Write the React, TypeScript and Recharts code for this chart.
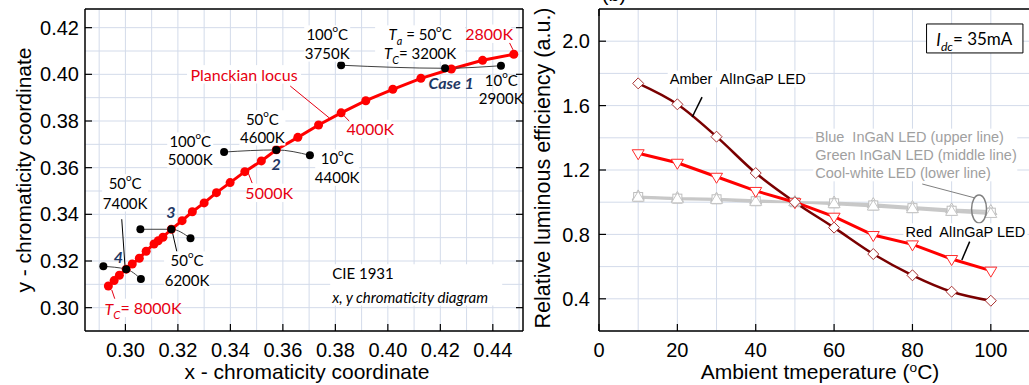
import React from 'react';
import {
  ComposedChart,
  Line,
  XAxis,
  YAxis,
  CartesianGrid,
  ReferenceDot,
  ReferenceLine,
  ReferenceArea,
} from 'recharts';

// ─── Fonts & colours ──────────────────────────────────────────────────────────

const ARIAL = '"Liberation Sans", Arial, sans-serif';
const CALIBRI = 'Lato, "Noto Sans", sans-serif';
const GRID = '#d3dbea';
const RED = '#ff0000';
const LABEL_RED = '#e60012';
const NAVY = '#1f3864';
const GREY_TXT = '#a0a0a0';

// ─── (a) CIE 1931 chromaticity data ───────────────────────────────────────────

const LOCUS_X = [
  0.2935, 0.2957, 0.2977, 0.3003, 0.3026, 0.3053, 0.3079, 0.3109, 0.3125, 0.3143,
  0.3175, 0.3216, 0.3255, 0.33, 0.3347, 0.3399, 0.3455, 0.3518, 0.3575, 0.3657,
  0.3736, 0.3822, 0.3916, 0.4019, 0.4126, 0.4242, 0.4361, 0.448,
];
const LOCUS_Y = [
  0.3093, 0.3116, 0.3139, 0.3165, 0.3187, 0.3212, 0.3242, 0.3273, 0.3287, 0.3302,
  0.3336, 0.3373, 0.3411, 0.3449, 0.3493, 0.3536, 0.3583, 0.3629, 0.3677, 0.373,
  0.3783, 0.3835, 0.3887, 0.3936, 0.3983, 0.4023, 0.406, 0.4086,
];

// each case: 100°C, 50°C, 10°C
const CASE1_X = [0.3822, 0.4218, 0.4431];
const CASE1_Y = [0.4039, 0.4026, 0.4037];
const CASE2_X = [0.3376, 0.3575, 0.3703];
const CASE2_Y = [0.3667, 0.3676, 0.3653];
const CASE3_X = [0.3057, 0.3175, 0.3248];
const CASE3_Y = [0.3336, 0.3336, 0.3297];
const CASE4_X = [0.2916, 0.3003, 0.3059];
const CASE4_Y = [0.3177, 0.3165, 0.3123];

const CIE_X_DOMAIN = [0.2846, 0.4515];
const CIE_Y_DOMAIN = [0.29, 0.428];
const CIE_X_TICKS = [0.3, 0.32, 0.34, 0.36, 0.38, 0.4, 0.42, 0.44];
const CIE_Y_TICKS = [0.3, 0.32, 0.34, 0.36, 0.38, 0.4, 0.42];
const CIE_X_GRID = [
  0.29, 0.3, 0.31, 0.32, 0.33, 0.34, 0.35, 0.36, 0.37, 0.38, 0.39, 0.4, 0.41, 0.42,
  0.43, 0.44, 0.45,
];
const CIE_Y_GRID = [0.3, 0.31, 0.32, 0.33, 0.34, 0.35, 0.36, 0.37, 0.38, 0.39, 0.4, 0.41, 0.42];

// ─── (b) Relative luminous efficiency vs ambient temperature ─────────────────

const TEMPS = [10, 20, 30, 40, 50, 60, 70, 80, 90, 100];
const AMBER = [1.738, 1.608, 1.407, 1.181, 1.0, 0.842, 0.678, 0.546, 0.444, 0.388];
const RED_LED = [1.304, 1.245, 1.158, 1.07, 1.0, 0.91, 0.796, 0.738, 0.647, 0.575];
const BLUE = [1.036, 1.026, 1.022, 1.012, 1.0, 0.998, 0.988, 0.97, 0.955, 0.945];
const GREEN = [1.032, 1.022, 1.018, 1.006, 1.0, 0.993, 0.98, 0.963, 0.947, 0.935];
const COOL_WHITE = [1.028, 1.018, 1.014, 1.002, 1.0, 0.988, 0.973, 0.957, 0.94, 0.927];

const TEMP_TICKS = [0, 20, 40, 60, 80, 100];
const EFF_TICKS = [0.4, 0.8, 1.2, 1.6, 2.0];
const TEMP_GRID = [10, 20, 30, 40, 50, 60, 70, 80, 90, 100];
const EFF_GRID = [0.4, 0.6, 0.8, 1.0, 1.2, 1.4, 1.6, 1.8, 2.0];

// ─── Helpers ──────────────────────────────────────────────────────────────────

const zip = (xs: number[], ys: number[]) => xs.map((x, i) => ({ x, y: ys[i] }));

const locusData = zip(LOCUS_X, LOCUS_Y);
const caseData = [
  zip(CASE1_X, CASE1_Y),
  zip(CASE2_X, CASE2_Y),
  zip(CASE3_X, CASE3_Y),
  zip(CASE4_X, CASE4_Y),
];

const effRows = TEMPS.map((t, i) => ({
  t,
  amber: AMBER[i],
  red: RED_LED[i],
  blue: BLUE[i],
  green: GREEN[i],
  white: COOL_WHITE[i],
}));

const AXIS = { stroke: '#000', strokeWidth: 1.5 };
const TICK_LINE = { stroke: '#000', strokeWidth: 1.2 };
const TICK = { fill: '#000', fontSize: 20, fontFamily: ARIAL };
const blank = () => '';

const Deg = () => (
  <tspan baselineShift="super" fontSize="65%">
    o
  </tspan>
);

const Sub = ({ children }: { children: React.ReactNode }) => (
  <tspan fontStyle="italic" baselineShift="sub" fontSize="72%">
    {children}
  </tspan>
);

interface NoteProps {
  viewBox?: { x: number; y: number };
  lines: React.ReactNode[];
  color?: string;
  size?: number;
  anchor?: 'start' | 'middle' | 'end';
  family?: string;
  weight?: number | string;
  italic?: boolean;
  gap?: number;
  bgWidth?: number;
}

// Multi-line text block anchored at a data point (first line centred on y)
function Note({
  viewBox,
  lines,
  color = '#000',
  size = 15,
  anchor = 'middle',
  family = CALIBRI,
  weight,
  italic,
  gap = 19,
  bgWidth,
}: NoteProps) {
  if (!viewBox) return null;
  const { x, y } = viewBox;
  const h = (lines.length - 1) * gap + size * 1.15;
  let bx = x - 2;
  if (bgWidth && anchor === 'middle') bx = x - bgWidth / 2;
  if (bgWidth && anchor === 'end') bx = x - bgWidth + 2;
  return (
    <g>
      {bgWidth ? <rect x={bx} y={y - size * 0.575} width={bgWidth} height={h} fill="#fff" /> : null}
      {lines.map((l, i) => (
        <text
          key={i}
          x={x}
          y={y + i * gap}
          textAnchor={anchor}
          dominantBaseline="central"
          fill={color}
          fontSize={size}
          fontFamily={family}
          fontWeight={weight}
          fontStyle={italic ? 'italic' : undefined}
          style={{ whiteSpace: 'pre' }}
        >
          {l}
        </text>
      ))}
    </g>
  );
}

// ─── Marker shapes ────────────────────────────────────────────────────────────

const diamond = (stroke: string) => (p: any) => (
  <path
    key={`dm${p.index}`}
    d={`M${p.cx},${p.cy - 5.5}L${p.cx + 5.5},${p.cy}L${p.cx},${p.cy + 5.5}L${p.cx - 5.5},${p.cy}Z`}
    fill="#fff"
    stroke={stroke}
    strokeWidth={1}
  />
);
const triDown = (stroke: string) => (p: any) => (
  <path
    key={`td${p.index}`}
    d={`M${p.cx - 6},${p.cy - 3.5}L${p.cx + 6},${p.cy - 3.5}L${p.cx},${p.cy + 6.5}Z`}
    fill="#fff"
    stroke={stroke}
    strokeWidth={1}
  />
);
const triUp = (stroke: string) => (p: any) => (
  <path
    key={`tu${p.index}`}
    d={`M${p.cx - 6},${p.cy + 3.5}L${p.cx + 6},${p.cy + 3.5}L${p.cx},${p.cy - 6.5}Z`}
    fill="#fff"
    stroke={stroke}
    strokeWidth={1}
  />
);
const square = (stroke: string) => (p: any) => (
  <rect key={`sq${p.index}`} x={p.cx - 4.5} y={p.cy - 4.5} width={9} height={9} fill="#fff" stroke={stroke} strokeWidth={1} />
);

// vertical grid lines, drawn under the data
const vGrid = (values: number[]) =>
  values.map((v) => (
    <ReferenceLine key={`vg${v}`} x={v} stroke={GRID} strokeWidth={1} zIndex={-100} />
  ));

// ─── Panel (a) ────────────────────────────────────────────────────────────────

function ChromaticityPanel() {
  const redLeader = { stroke: LABEL_RED, strokeWidth: 1, ifOverflow: 'visible' as const };
  const blackLeader = { stroke: '#000', strokeWidth: 1, ifOverflow: 'visible' as const };
  return (
    <ComposedChart width={530} height={385} margin={{ top: 4, right: 2, bottom: 0, left: 0 }}>
      <YAxis yAxisId="gy" type="number" domain={CIE_Y_DOMAIN} ticks={CIE_Y_GRID} hide allowDataOverflow />
      <CartesianGrid yAxisId="gy" vertical={false} stroke={GRID} strokeWidth={1} />

      <XAxis
        dataKey="x"
        type="number"
        domain={CIE_X_DOMAIN}
        ticks={CIE_X_TICKS}
        allowDataOverflow
        interval={0}
        height={54}
        tickSize={-7}
        tickMargin={19}
        tick={TICK}
        tickLine={TICK_LINE}
        axisLine={AXIS}
        tickFormatter={(v: number) => v.toFixed(2)}
      />
      <XAxis
        xAxisId="top"
        orientation="top"
        type="number"
        domain={CIE_X_DOMAIN}
        ticks={CIE_X_TICKS}
        allowDataOverflow
        interval={0}
        height={5}
        tickSize={-7}
        tickLine={TICK_LINE}
        axisLine={AXIS}
        tickFormatter={blank}
      />
      <YAxis
        type="number"
        domain={CIE_Y_DOMAIN}
        ticks={CIE_Y_TICKS}
        allowDataOverflow
        interval={0}
        width={85}
        tickSize={-7}
        tickMargin={13}
        tick={TICK}
        tickLine={TICK_LINE}
        axisLine={AXIS}
        tickFormatter={(v: number) => v.toFixed(2)}
      />
      <YAxis
        yAxisId="right"
        orientation="right"
        type="number"
        domain={CIE_Y_DOMAIN}
        ticks={CIE_Y_TICKS}
        allowDataOverflow
        interval={0}
        width={5}
        tickSize={-7}
        tickLine={TICK_LINE}
        axisLine={AXIS}
        tickFormatter={blank}
      />

      {vGrid(CIE_X_GRID)}

      {/* Planckian locus */}
      <Line
        data={locusData}
        dataKey="y"
        type="linear"
        stroke={RED}
        strokeWidth={3}
        dot={{ r: 4.5, fill: RED, stroke: 'none' }}
        isAnimationActive={false}
      />

      {/* temperature sweeps (100 / 50 / 10 °C) */}
      {caseData.map((d, i) => (
        <Line
          key={i}
          data={d}
          dataKey="y"
          type="monotone"
          stroke="#404040"
          strokeWidth={1}
          dot={{ r: 4, fill: '#000', stroke: 'none' }}
          isAnimationActive={false}
        />
      ))}

      {/* leaders */}
      <ReferenceLine segment={[{ x: 0.3628, y: 0.395 }, { x: 0.3777, y: 0.3813 }]} {...redLeader} />
      <ReferenceLine segment={[{ x: 0.383, y: 0.3826 }, { x: 0.3856, y: 0.3796 }]} {...redLeader} />
      <ReferenceLine segment={[{ x: 0.3468, y: 0.3577 }, { x: 0.3483, y: 0.3534 }]} {...redLeader} />
      <ReferenceLine segment={[{ x: 0.4458, y: 0.4148 }, { x: 0.4477, y: 0.4105 }]} {...redLeader} />
      <ReferenceLine segment={[{ x: 0.2948, y: 0.3076 }, { x: 0.2961, y: 0.3033 }]} {...redLeader} />
      <ReferenceLine segment={[{ x: 0.2986, y: 0.3379 }, { x: 0.2999, y: 0.3169 }]} {...blackLeader} />
      <ReferenceLine segment={[{ x: 0.3177, y: 0.3333 }, { x: 0.3196, y: 0.324 }]} {...blackLeader} />

      {/* red labels */}
      <ReferenceDot x={0.3452} y={0.4} r={0} label={<Note lines={['Planckian locus']} color={LABEL_RED} size={16} bgWidth={114} />} />
      <ReferenceDot x={0.3933} y={0.3766} r={0} label={<Note lines={['4000K']} color={LABEL_RED} size={16} bgWidth={42} />} />
      <ReferenceDot x={0.3548} y={0.3492} r={0} label={<Note lines={['5000K']} color={LABEL_RED} size={16} bgWidth={44} />} />
      <ReferenceDot x={0.4386} y={0.4174} r={0} label={<Note lines={['2800K']} color={LABEL_RED} size={16} bgWidth={44} />} />
      <ReferenceDot
        x={0.3067}
        y={0.2999}
        r={0}
        label={
          <Note
            lines={[
              <>
                <tspan fontStyle="italic">T</tspan>
                <Sub>C</Sub>= 8000K
              </>,
            ]}
            color={LABEL_RED}
            size={16}
            bgWidth={64}
          />
        }
      />

      {/* black labels */}
      <ReferenceDot x={0.3769} y={0.4173} r={0} label={<Note lines={[<>100<Deg />C</>, '3750K']} bgWidth={46} />} />
      <ReferenceDot
        x={0.4123}
        y={0.4173}
        r={0}
        label={
          <Note
            lines={[
              <>
                <tspan fontStyle="italic">T</tspan>
                <Sub>a</Sub> = 50<Deg />C
              </>,
              <>
                <tspan fontStyle="italic">T</tspan>
                <Sub>C</Sub>= 3200K
              </>,
            ]}
            bgWidth={90}
          />
        }
      />
      <ReferenceDot x={0.4432} y={0.3976} r={0} label={<Note lines={[<>10<Deg />C</>, '2900K']} gap={18} />} />
      <ReferenceDot x={0.3522} y={0.3809} r={0} label={<Note lines={[<>50<Deg />C</>, '4600K']} gap={18} bgWidth={46} />} />
      <ReferenceDot x={0.3247} y={0.3714} r={0} label={<Note lines={[<>100<Deg />C</>, '5000K']} gap={18} bgWidth={46} />} />
      <ReferenceDot x={0.3807} y={0.3641} r={0} label={<Note lines={[<>10<Deg />C</>, '4400K']} bgWidth={44} />} />
      <ReferenceDot x={0.2999} y={0.3535} r={0} label={<Note lines={[<>50<Deg />C</>, '7400K']} gap={20} bgWidth={46} />} />
      <ReferenceDot x={0.3235} y={0.3204} r={0} label={<Note lines={[<>50<Deg />C</>, '6200K']} gap={20} bgWidth={46} />} />

      {/* case numbers */}
      <ReferenceDot x={0.4241} y={0.3963} r={0} label={<Note lines={['Case 1']} color={NAVY} weight={700} italic size={16} />} />
      <ReferenceDot x={0.3574} y={0.362} r={0} label={<Note lines={['2']} color={NAVY} weight={700} italic size={16} />} />
      <ReferenceDot x={0.3173} y={0.3411} r={0} label={<Note lines={['3']} color={NAVY} weight={700} italic size={16} />} />
      <ReferenceDot x={0.2973} y={0.3219} r={0} label={<Note lines={['4']} color={NAVY} weight={700} italic size={16} />} />

      <ReferenceDot
        x={0.3788}
        y={0.3149}
        r={0}
        label={
          <Note
            lines={['CIE 1931', <tspan fontStyle="italic">x, y chromaticity diagram</tspan>]}
            anchor="start"
            gap={24}
            bgWidth={172}
          />
        }
      />
    </ComposedChart>
  );
}

// ─── Panel (b) ────────────────────────────────────────────────────────────────

function EfficiencyPanel() {
  const greyLine = { stroke: '#c8c8c8', strokeWidth: 2, type: 'linear' as const, isAnimationActive: false };
  return (
    <ComposedChart width={507} height={385} data={effRows} margin={{ top: 4, right: 0, bottom: 0, left: 0 }}>
      <YAxis yAxisId="gy" type="number" domain={[0.2, 2.2]} ticks={EFF_GRID} hide allowDataOverflow />
      <CartesianGrid yAxisId="gy" vertical={false} stroke={GRID} strokeWidth={1} />

      <XAxis
        dataKey="t"
        type="number"
        domain={[0, 110]}
        ticks={TEMP_TICKS}
        allowDataOverflow
        interval={0}
        height={54}
        tickSize={-7}
        tickMargin={19}
        tick={TICK}
        tickLine={TICK_LINE}
        axisLine={AXIS}
      />
      <XAxis
        xAxisId="top"
        orientation="top"
        type="number"
        domain={[0, 110]}
        ticks={TEMP_TICKS}
        allowDataOverflow
        interval={0}
        height={5}
        tickSize={-7}
        tickLine={TICK_LINE}
        axisLine={AXIS}
        tickFormatter={blank}
      />
      <YAxis
        type="number"
        domain={[0.2, 2.2]}
        ticks={EFF_TICKS}
        allowDataOverflow
        interval={0}
        width={76}
        tickSize={-7}
        tickMargin={16}
        tick={TICK}
        tickLine={TICK_LINE}
        axisLine={AXIS}
        tickFormatter={(v: number) => v.toFixed(1)}
      />

      {vGrid(TEMP_GRID)}

      <Line dataKey="blue" {...greyLine} dot={triUp('#bdbdbd')} />
      <Line dataKey="green" {...greyLine} dot={square('#bdbdbd')} />
      <Line dataKey="white" {...greyLine} dot={triUp('#c4c4c4')} />
      <Line dataKey="red" type="linear" stroke={RED} strokeWidth={3} dot={triDown('#ff2a2a')} isAnimationActive={false} />
      <Line dataKey="amber" type="monotone" stroke="#7a0000" strokeWidth={2.5} dot={diamond('#a83232')} isAnimationActive={false} />

      {/* leaders and ellipse */}
      <ReferenceLine segment={[{ x: 26.3, y: 1.653 }, { x: 23.8, y: 1.529 }]} stroke="#000" strokeWidth={1.5} />
      <ReferenceLine segment={[{ x: 82.5, y: 1.113 }, { x: 96.0, y: 1.026 }]} stroke="#808080" strokeWidth={1} />
      <ReferenceLine segment={[{ x: 94.6, y: 0.755 }, { x: 92.6, y: 0.641 }]} stroke="#000" strokeWidth={1.5} />
      <ReferenceDot
        x={97}
        y={0.958}
        r={0}
        shape={(p: any) => (
          <ellipse cx={p.cx} cy={p.cy} rx={7.5} ry={14} fill="none" stroke="#808080" strokeWidth={1.5} />
        )}
      />

      <ReferenceDot
        x={35.4}
        y={1.765}
        r={0}
        label={<Note lines={['Amber  AlInGaP LED']} family={ARIAL} size={14.5} bgWidth={140} />}
      />
      <ReferenceDot
        x={93.5}
        y={0.817}
        r={0}
        label={<Note lines={['Red  AlInGaP LED']} family={ARIAL} size={14.5} bgWidth={124} />}
      />
      <ReferenceDot
        x={55.2}
        y={1.405}
        r={0}
        label={
          <Note
            lines={['Blue  InGaN LED (upper line)', 'Green InGaN LED (middle line)', 'Cool-white LED (lower line)']}
            family={ARIAL}
            size={14.5}
            color={GREY_TXT}
            anchor="start"
            gap={18}
            bgWidth={204}
          />
        }
      />

      {/* current box */}
      <ReferenceArea x1={83.6} x2={108.2} y1={1.927} y2={2.107} fill="#fff" fillOpacity={1} stroke="#000" strokeWidth={1} />
      <ReferenceDot
        x={95.8}
        y={2.014}
        r={0}
        label={
          <Note
            lines={[
              <>
                <tspan fontStyle="italic">I</tspan>
                <Sub>dc</Sub>= 35mA
              </>,
            ]}
            size={17}
          />
        }
      />
    </ComposedChart>
  );
}

// ─── App ──────────────────────────────────────────────────────────────────────

export default function App() {
  return (
    <div
      style={{
        position: 'fixed',
        left: 0,
        top: 0,
        width: 1029,
        height: 385,
        overflow: 'hidden',
        background: '#fff',
      }}
    >
      <div style={{ position: 'absolute', left: 0, top: 0 }}>
        <ChromaticityPanel />
      </div>
      <div style={{ position: 'absolute', left: 523, top: 0 }}>
        <EfficiencyPanel />
      </div>
      <svg
        width={1029}
        height={385}
        style={{ position: 'absolute', left: 0, top: 0, pointerEvents: 'none' }}
        fontFamily={ARIAL}
      >
        <text x={307} y={379} textAnchor="middle" fontSize={21}>
          x - chromaticity coordinate
        </text>
        <text transform="translate(23,170) rotate(-90)" textAnchor="middle" dominantBaseline="central" fontSize={21}>
          y - chromaticity coordinate
        </text>
        <text transform="translate(543,168) rotate(-90)" textAnchor="middle" dominantBaseline="central" fontSize={21.5}>
          Relative luminous efficiency (a.u.)
        </text>
        <text x={820} y={379} textAnchor="middle" fontSize={21}>
          Ambient tmeperature (<tspan baselineShift="super" fontSize="65%">o</tspan>C)
        </text>
        <text x={614} y={1} textAnchor="middle" fontSize={20}>
          (b)
        </text>
      </svg>
    </div>
  );
}
